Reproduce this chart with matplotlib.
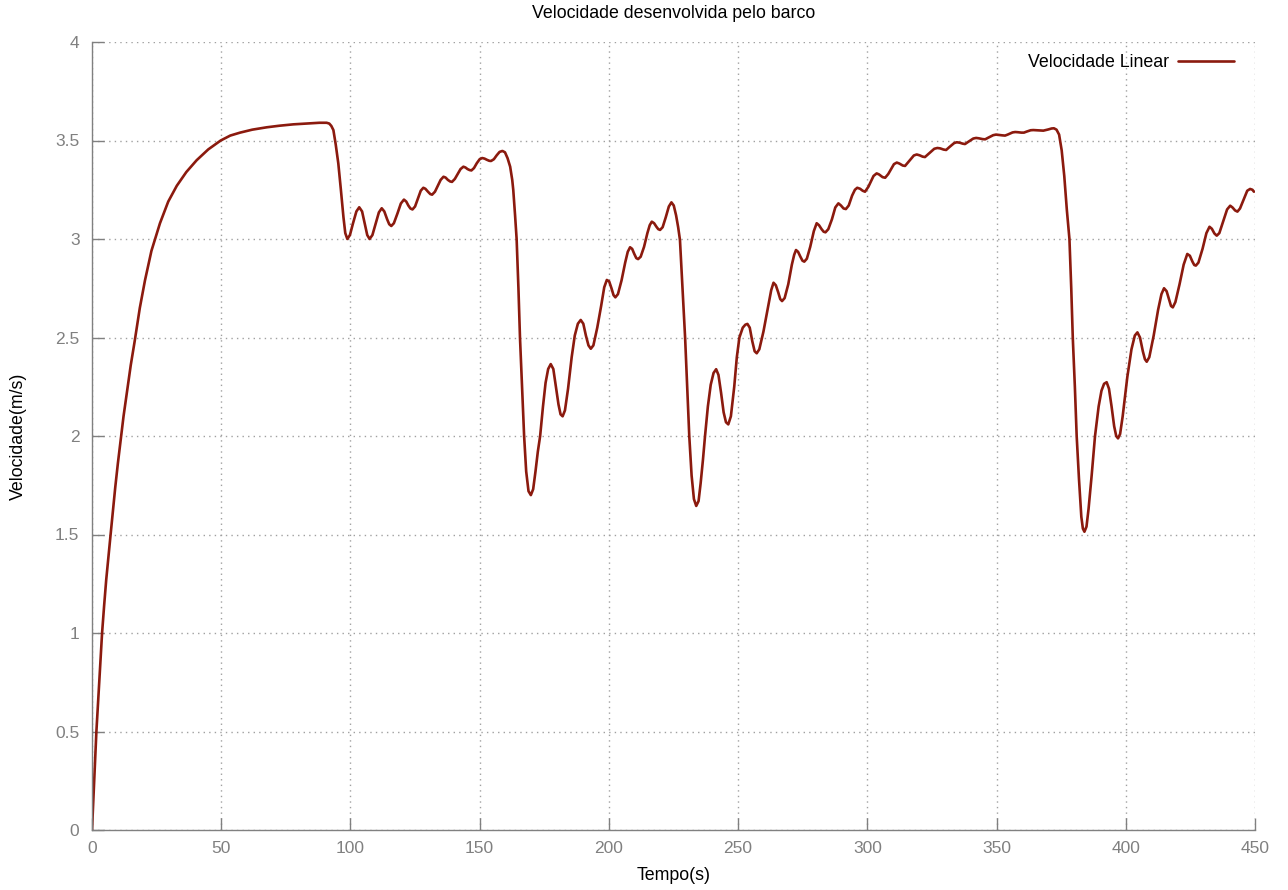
import matplotlib
matplotlib.use("Agg")
import matplotlib.pyplot as plt

plt.rcParams['font.family'] = ['Liberation Sans', 'DejaVu Sans']

title = "Velocidade desenvolvida pelo barco"
xlabel = "Tempo(s)"
ylabel = "Velocidade(m/s)"
series_name = "Velocidade Linear"
xticks = [0, 50, 100, 150, 200, 250, 300, 350, 400, 450]
yticks = [0, 0.5, 1, 1.5, 2, 2.5, 3, 3.5, 4]
yticklabels = ["0", "0.5", "1", "1.5", "2", "2.5", "3", "3.5", "4"]

# time (s) and velocity (m/s)
tempo = [
    0, 0.8, 1.7, 2.8, 3.9, 4.7, 5.5, 6.3, 7.2, 8.1, 9, 10, 11, 12.2, 13.5, 15, 16.5, 18.5,
    20.5, 23, 26.3, 29.5, 32.8, 36.5, 40.5, 45, 49.8,
    53.5, 57.3, 62, 67.6, 72.5, 77.9, 84, 88, 90.8, 91.8, 92.6, 93.4, 94.3, 95.3, 96.3, 97.3, 98.0,
    98.8, 99.8, 101, 102.3, 103.4, 104.5, 105.5, 106.5, 107.4, 108.5, 109.8, 111, 112.1, 113.1,
    114.2, 115.0, 115.8, 116.8, 118.2, 119.5, 120.7, 121.6, 122.4, 123.2, 124.0, 125, 126.1,
    127.2, 128.2, 129, 130.0, 130.9, 131.6, 132.7, 133.8, 134.9, 136.0, 136.8, 137.7, 138.6,
    139.3, 140.4, 141.5, 142.6, 143.7, 144.5, 145.3, 146.1, 146.8, 147.8, 148.9, 150, 151.0,
    151.9, 152.8, 153.7, 154.4, 155.5, 156.6, 157.7, 158.8, 159.8, 160.8, 161.8, 162.6, 163.0,
    163.7, 164.3, 165.0, 165.6, 166.4, 167.2, 168.0, 168.9, 169.8, 170.7, 171.6, 172.5, 173.4,
    174.5, 175.5, 176.5, 177.5, 178.5, 179.5, 180.5, 181.3, 182.1, 183.0, 184.2, 185.6, 186.8,
    188.0, 189.1, 190.1, 191.1, 192.1, 193.0, 194.0, 195.5, 197.0, 198.2, 199.2, 200.1, 201.0,
    201.8, 202.5, 203.5, 204.9, 206.3, 207.3, 208.2, 209.0, 209.8, 210.6, 211.3, 212.3, 213.6,
    214.9, 215.8, 216.6, 217.5, 218.4, 219.1, 219.8, 220.8, 222.0, 223.2, 224.2, 225.1, 226.0,
    226.8, 227.5, 228.5, 229.5, 230.3, 231.1, 232.0, 232.9, 233.8, 234.7, 235.5, 236.4, 237.2,
    238.3, 239.4, 240.5, 241.5, 242.4, 243.4, 244.4, 245.3, 246.2, 247.2, 248.5, 249.5, 250.5,
    251.8, 252.8, 253.6, 254.5, 255.5, 256.4, 257.2, 258.2, 259.8, 261.5, 262.8, 263.7, 264.6,
    265.5, 266.3, 267.0, 268.0, 269.4, 270.8, 271.7, 272.4, 273.2, 274.1, 274.9, 275.6, 276.6,
    277.9, 279.3, 280.4, 281.3, 282.3, 283.1, 283.8, 284.9, 286.3, 287.6, 288.8, 289.8, 290.8,
    291.7, 292.8, 294.1, 295.2, 296.1, 297.2, 298.2, 299.1, 300.4, 302.4, 303.6, 304.5, 305.9,
    306.9, 308.1, 310.3, 311.4, 312.4, 313.7, 314.6, 315.8, 318, 319.1, 320.2, 321.4, 322.3,
    323.5, 325.9, 327.1, 328.2, 329.5, 330.5, 331.6, 333.6, 334.6, 335.7, 336.9, 337.8, 338.9,
    341, 342.1, 343.2, 344.6, 345.6, 346.6, 348.7, 349.8, 351, 352.3, 353.3, 354.3, 356.2,
    357.2, 358.3, 359.6, 360.6, 361.6, 363.2, 364.2, 366.5, 368.1, 370, 371.3, 372.2, 373.2,
    374.2, 375.2, 376.2, 377.2, 378.2, 378.9, 379.5, 380.3, 381.0, 381.9, 382.8, 383.4, 384.0,
    384.8, 385.6, 386.8, 388.1, 389.5, 390.6, 391.6, 392.6, 393.5, 394.5, 395.5, 396.3, 397.0,
    397.8, 398.8, 400.6, 402.2, 403.5, 404.5, 405.5, 406.6, 407.4, 408.1, 409.1, 410.8, 412.5,
    413.8, 414.8, 415.8, 416.8, 417.5, 418.2, 419.2, 420.8, 422.4, 423.8, 424.8, 425.8, 426.5,
    427.1, 428.1, 429.7, 431.2, 432.4, 433.3, 434.3, 435.2, 436.2, 437.7, 439.2, 440.4, 441.3,
    442.3, 443.2, 444.2, 445.6, 447.0, 448.1, 449.0, 449.6,
]
velocidade = [
    0, 0.24, 0.5, 0.75, 1.0, 1.14, 1.27, 1.38, 1.5, 1.62, 1.74, 1.86, 1.97, 2.10, 2.22, 2.36, 2.48, 2.65,
    2.79, 2.94, 3.08, 3.19, 3.27, 3.34, 3.40, 3.455, 3.50,
    3.525, 3.54, 3.555, 3.567, 3.575, 3.582, 3.587, 3.59, 3.59, 3.586, 3.574, 3.553, 3.48, 3.384, 3.25, 3.11, 3.03,
    3.0, 3.02, 3.08, 3.14, 3.161, 3.14, 3.08, 3.02, 3.0, 3.02, 3.08, 3.135, 3.156, 3.14,
    3.1, 3.075, 3.066, 3.08, 3.13, 3.18, 3.20, 3.19, 3.17, 3.155, 3.15, 3.165, 3.205,
    3.245, 3.26, 3.255, 3.24, 3.228, 3.225, 3.24, 3.27, 3.30, 3.316, 3.312, 3.30, 3.292,
    3.29, 3.305, 3.33, 3.355, 3.367, 3.363, 3.355, 3.35, 3.348, 3.36, 3.385, 3.405, 3.411,
    3.408, 3.402, 3.397, 3.396, 3.405, 3.425, 3.442, 3.447, 3.44, 3.41, 3.367, 3.30, 3.249,
    3.12, 3.0, 2.75, 2.5, 2.25, 2.0, 1.82, 1.72, 1.70, 1.73, 1.82, 1.92, 2.0,
    2.15, 2.27, 2.34, 2.365, 2.34, 2.25, 2.16, 2.11, 2.10, 2.13, 2.24, 2.40, 2.51,
    2.57, 2.589, 2.57, 2.51, 2.46, 2.443, 2.46, 2.55, 2.66, 2.755, 2.792, 2.785, 2.75,
    2.715, 2.704, 2.72, 2.79, 2.88, 2.935, 2.958, 2.95, 2.925, 2.903, 2.898, 2.91, 2.96,
    3.03, 3.07, 3.088, 3.08, 3.062, 3.05, 3.046, 3.06, 3.11, 3.165, 3.186, 3.17, 3.12,
    3.06, 2.995, 2.75, 2.497, 2.25, 2.0, 1.80, 1.68, 1.645, 1.67, 1.76, 1.88, 2.0,
    2.15, 2.26, 2.32, 2.339, 2.31, 2.22, 2.12, 2.07, 2.059, 2.10, 2.25, 2.40, 2.50,
    2.55, 2.565, 2.569, 2.55, 2.48, 2.43, 2.42, 2.44, 2.53, 2.65, 2.74, 2.778, 2.765,
    2.73, 2.695, 2.685, 2.70, 2.77, 2.87, 2.92, 2.944, 2.935, 2.91, 2.89, 2.885, 2.90,
    2.96, 3.04, 3.08, 3.07, 3.05, 3.037, 3.034, 3.05, 3.10, 3.16, 3.181, 3.17, 3.155,
    3.152, 3.17, 3.22, 3.25, 3.26, 3.255, 3.245, 3.24, 3.265, 3.32, 3.333, 3.328, 3.314,
    3.311, 3.33, 3.38, 3.388, 3.383, 3.373, 3.371, 3.39, 3.424, 3.429, 3.425, 3.418, 3.416,
    3.43, 3.458, 3.462, 3.46, 3.454, 3.452, 3.465, 3.487, 3.491, 3.489, 3.484, 3.482, 3.492,
    3.51, 3.513, 3.511, 3.507, 3.506, 3.513, 3.527, 3.53, 3.528, 3.526, 3.525, 3.53, 3.541,
    3.543, 3.542, 3.54, 3.54, 3.545, 3.552, 3.553, 3.551, 3.55, 3.556, 3.561, 3.562, 3.555,
    3.53, 3.45, 3.32, 3.147, 3.0, 2.75, 2.497, 2.25, 2.0, 1.78, 1.59, 1.53, 1.514,
    1.54, 1.63, 1.80, 2.0, 2.15, 2.23, 2.265, 2.273, 2.24, 2.15, 2.05, 2.0, 1.988,
    2.01, 2.10, 2.30, 2.44, 2.51, 2.526, 2.50, 2.43, 2.39, 2.377, 2.40, 2.51, 2.64,
    2.72, 2.75, 2.735, 2.69, 2.66, 2.653, 2.68, 2.77, 2.87, 2.924, 2.915, 2.885, 2.868,
    2.865, 2.88, 2.95, 3.03, 3.062, 3.052, 3.028, 3.017, 3.03, 3.09, 3.15, 3.169, 3.16,
    3.145, 3.139, 3.155, 3.2, 3.245, 3.254, 3.25, 3.24,
]

W, H = 1288, 890
fig = plt.figure(figsize=(W / 100, H / 100), dpi=100)
ax = fig.add_axes([92 / W, 60 / H, (1255 - 92) / W, (830 - 42) / H])

line_color = '#8b1a0e'
grey = '#808080'

ax.plot(tempo, velocidade, color=line_color, lw=1.9, label=series_name,
        solid_joinstyle='round', solid_capstyle='round')

ax.set_xlim(0, 450)
ax.set_ylim(0, 4)
ax.set_xticks(xticks)
ax.set_yticks(yticks)
ax.set_yticklabels(yticklabels)

ax.grid(True, color='#a0a0a0', linestyle=(0, (1, 3)), linewidth=1.0)
ax.set_axisbelow(True)

for s in ['top', 'right']:
    ax.spines[s].set_visible(False)
for s in ['left', 'bottom']:
    ax.spines[s].set_color(grey)
    ax.spines[s].set_linewidth(1.0)

ax.tick_params(direction='in', length=8.5, width=1.0, color=grey, labelcolor=grey,
               labelsize=12.5)
ax.tick_params(axis='x', pad=8)
ax.tick_params(axis='y', pad=9)

fig.text(673.5 / W, 1 - 14 / H, title, ha='center', va='center', fontsize=12.8, color='black')
fig.text(673.5 / W, 1 - 876 / H, xlabel, ha='center', va='center', fontsize=12.8, color='black')
fig.text(18 / W, 1 - 436 / H, ylabel, ha='center', va='center', fontsize=12.8, rotation=90,
         color='black')

leg = ax.legend(loc='upper right', frameon=False, fontsize=12.8, markerfirst=False,
                handlelength=3.1, borderaxespad=0.3, handletextpad=0.55)
leg.set_bbox_to_anchor((0, 0, (1246 - 92) / (1255 - 92), 1.0), transform=ax.transAxes)

fig.savefig('out.png', dpi=100)
